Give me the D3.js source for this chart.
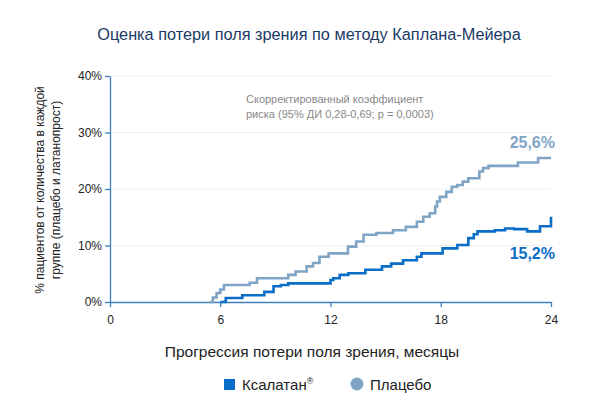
<!DOCTYPE html>
<html><head><meta charset="utf-8">
<script src="https://cdn.jsdelivr.net/npm/d3@7"></script>
<style>body{margin:0;background:#fff}text{font-family:Arial,"Liberation Sans",sans-serif}</style>
</head><body><svg id="c" width="608" height="409"></svg>
<script>
// months and cumulative % for each curve
const placeboMonths = [5.44,5.6,5.8,6.0,6.2,7.6,8.0,9.7,10.1,10.7,11.05,11.4,11.9,12.95,13.4,13.8,14.5,15.4,16.1,16.7,17.05,17.4,17.7,17.8,17.95,18.3,18.6,18.9,19.2,19.5,20.1,20.3,20.6,22.2,23.3,24];
const placeboValues = [0,0.8,1.6,2.2,3.0,3.4,4.2,4.8,5.4,6.3,6.9,8.0,8.6,9.8,10.7,11.9,12.2,12.7,13.3,14.2,15.1,15.7,16.9,17.8,18.6,19.5,20.4,20.7,21.3,21.9,23.1,23.7,24.1,24.7,25.5,25.5];
const ksalMonths = [6.0,6.3,7.2,8.4,8.9,9.3,9.7,12.0,12.15,12.5,12.97,13.9,14.8,15.3,15.95,16.7,16.95,18.1,18.9,19.5,19.8,20.0,20.95,21.5,22.0,22.7,23.4,24,24];
const ksalValues = [0,0.7,1.2,1.8,2.8,3.0,3.3,3.9,4.2,4.8,5.1,5.7,6.3,6.8,7.4,8.0,8.6,9.5,10.1,11.3,12.0,12.5,12.7,13.0,12.9,12.5,13.4,13.4,15.1];
const xTicks = [0,6,12,18,24];
const yTicks = [0,10,20,30,40];

const svg = d3.select('#c');
const x = d3.scaleLinear().domain([0,24]).range([110,551]);
const y = d3.scaleLinear().domain([0,40]).range([302,76]);
const axisCol = '#3f7fbf';

// grid
svg.append('g').selectAll('line').data(yTicks.slice(1)).join('line')
  .attr('x1',110).attr('x2',551).attr('y1',d=>y(d)).attr('y2',d=>y(d))
  .attr('stroke','#f0f0f0');

const xa = svg.append('g').attr('transform','translate(0,302)')
  .call(d3.axisBottom(x).tickValues(xTicks).tickSize(5).tickSizeOuter(0));
const ya = svg.append('g').attr('transform','translate(110,0)')
  .call(d3.axisLeft(y).tickValues(yTicks).tickSize(5).tickSizeOuter(0).tickFormat(d=>d+'%'));
[xa,ya].forEach(a=>{
  a.selectAll('path,line').attr('stroke',axisCol).attr('stroke-width',1.3);
  a.selectAll('text').attr('fill','#222').attr('font-size',12);
});
xa.selectAll('text').attr('dy','1.2em');

const line = d3.line().x(d=>x(d[0])).y(d=>y(d[1])).curve(d3.curveStepAfter);
svg.append('path').datum(d3.zip(placeboMonths,placeboValues)).attr('d',line)
  .attr('fill','none').attr('stroke','#7fa4c6').attr('stroke-width',2.6);
svg.append('path').datum(d3.zip(ksalMonths,ksalValues)).attr('d',line)
  .attr('fill','none').attr('stroke','#0a6dc8').attr('stroke-width',2.6);

svg.append('text').attr('x',309).attr('y',40).attr('text-anchor','middle')
  .attr('font-size',16.3).attr('fill','#1a3a66').text('Оценка потери поля зрения по методу Каплана-Мейера');
svg.append('text').attr('x',246).attr('y',103).attr('font-size',11).attr('fill','#888')
  .text('Скорректированный коэффициент');
svg.append('text').attr('x',246).attr('y',118).attr('font-size',11).attr('fill','#888')
  .text('риска (95% ДИ 0,28-0,69; р = 0,0003)');
svg.append('text').attr('x',555).attr('y',148).attr('text-anchor','end').attr('font-size',16)
  .attr('font-weight','bold').attr('fill','#7fa4c6').text('25,6%');
svg.append('text').attr('x',555).attr('y',259).attr('text-anchor','end').attr('font-size',16)
  .attr('font-weight','bold').attr('fill','#0a6dc8').text('15,2%');

const yt = svg.append('text').attr('transform','translate(44,190) rotate(-90)')
  .attr('text-anchor','middle').attr('font-size',12).attr('fill','#222');
yt.append('tspan').attr('x',0).attr('dy',0).text('% пациентов от количества в каждой');
yt.append('tspan').attr('x',0).attr('dy','1.3em').text('группе (плацебо и латанопрост)');

svg.append('text').attr('x',312).attr('y',357).attr('text-anchor','middle')
  .attr('font-size',15.5).attr('fill','#222').text('Прогрессия потери поля зрения, месяцы');

svg.append('rect').attr('x',224).attr('y',379).attr('width',11).attr('height',11).attr('fill','#0a6dc8');
const lt = svg.append('text').attr('x',242).attr('y',390).attr('font-size',15).attr('fill','#222');
lt.append('tspan').text('Ксалатан');
lt.append('tspan').attr('font-size',9).attr('dy',-6).text('®');
svg.append('circle').attr('cx',357).attr('cy',384).attr('r',6.5).attr('fill','#7fa4c6');
svg.append('text').attr('x',370).attr('y',390).attr('font-size',15).attr('fill','#222').text('Плацебо');
</script></body></html>
